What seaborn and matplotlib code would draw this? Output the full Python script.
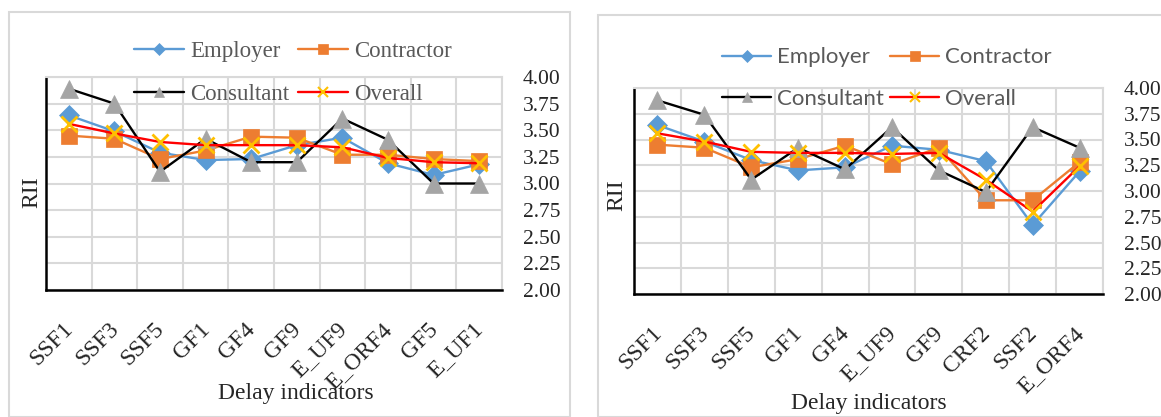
import numpy as np
import pandas as pd
import matplotlib
matplotlib.use("Agg")
import matplotlib.pyplot as plt
import matplotlib.patches as pat
import matplotlib.transforms as mtrans
from matplotlib.lines import Line2D
import seaborn as sns

# ---------------- data ----------------
cats_a = ["SSF1", "SSF3", "SSF5", "GF1", "GF4", "GF9", "E_UF9", "E_ORF4", "GF5", "E_UF1"]
employer_a = [3.64, 3.49, 3.29, 3.22, 3.23, 3.36, 3.43, 3.19, 3.08, 3.18]
contractor_a = [3.45, 3.42, 3.23, 3.31, 3.44, 3.43, 3.27, 3.27, 3.23, 3.21]
consultant_a = [3.89, 3.75, 3.11, 3.42, 3.20, 3.20, 3.61, 3.41, 3.00, 3.00]
overall_a = [3.56, 3.47, 3.39, 3.36, 3.36, 3.36, 3.34, 3.24, 3.20, 3.19]

cats_b = ["SSF1", "SSF3", "SSF5", "GF1", "GF4", "E_UF9", "GF9", "CRF2", "SSF2", "E_ORF4"]
employer_b = [3.64, 3.48, 3.30, 3.20, 3.23, 3.44, 3.40, 3.29, 2.67, 3.19]
contractor_b = [3.45, 3.42, 3.23, 3.31, 3.44, 3.26, 3.42, 2.91, 2.91, 3.28]
consultant_b = [3.88, 3.74, 3.11, 3.42, 3.21, 3.62, 3.20, 2.99, 3.62, 3.42]
overall_b = [3.56, 3.48, 3.38, 3.37, 3.37, 3.36, 3.37, 3.11, 2.80, 3.24]

yticks = [2.00, 2.25, 2.50, 2.75, 3.00, 3.25, 3.50, 3.75, 4.00]
series_names = ["Employer", "Contractor", "Consultant", "Overall"]

# style per series: line colour, marker, marker face, marker edge, size
styles = {
    "Employer": dict(color="#5B9BD5", marker="D", mfc="#5B9BD5", mec="#5B9BD5", ms=10.5),
    "Contractor": dict(color="#ED7D31", marker="s", mfc="#ED7D31", mec="#ED7D31", ms=12),
    "Consultant": dict(color="black", marker="^", mfc="#A5A5A5", mec="#A5A5A5", ms=13),
    "Overall": dict(color="#FF0000", marker="x", mfc="#FFC000", mec="#FFC000", ms=12),
}

sns.set_theme(style="white")
W, H = 1161, 417
fig = plt.figure(figsize=(W / 100, H / 100), dpi=100)
fig.patch.set_facecolor("white")

def px(x0, y0, x1, y1):
    return [x0 / W, 1 - y1 / H, (x1 - x0) / W, (y1 - y0) / H]

# outer frames
fig.patches.append(pat.Rectangle((9 / W, 0), 561 / W, 1 - 12 / H, transform=fig.transFigure,
                                 fill=False, edgecolor="#d9d9d9", lw=1.5))
fig.patches.append(pat.Rectangle((598 / W, 0), 600 / W, 1 - 15 / H, transform=fig.transFigure,
                                 fill=False, edgecolor="#d9d9d9", lw=1.5))

def draw_panel(rect, cats, vals, legend_font, legend_size, leg_anchor, xlab_dx, cspace):
    ax = fig.add_axes(rect)
    df = pd.DataFrame({"cat": cats})
    for name, v in zip(series_names, vals):
        st = styles[name]
        sns.lineplot(x=df["cat"], y=v, ax=ax, sort=False, color=st["color"], lw=1.7,
                     marker=st["marker"], markersize=st["ms"], markerfacecolor=st["mfc"],
                     markeredgecolor=st["mec"], markeredgewidth=2 if name == "Overall" else 0.5,
                     errorbar=None)
    ax.set_xlim(-0.5, len(cats) - 0.5)
    ax.set_ylim(2.0, 4.0)
    ax.set_yticks(yticks)
    ax.set_yticklabels([f"{t:.2f}" for t in yticks], family="Liberation Serif", fontsize=15.5)
    ax.yaxis.tick_right()
    ax.tick_params(axis="y", length=0, pad=15)
    ax.set_xticks(range(len(cats)))
    ax.set_xticklabels(cats, rotation=45, ha="right", va="center", rotation_mode="anchor",
                       family="Liberation Serif", fontsize=17)
    ax.tick_params(axis="x", length=0, pad=26)
    off = mtrans.ScaledTranslation(xlab_dx / 100, 0, fig.dpi_scale_trans)
    for lab in ax.get_xticklabels():
        lab.set_transform(lab.get_transform() + off)
    ax.set_xticks(np.arange(-0.5, len(cats), 1), minor=True)
    ax.grid(False)
    ax.grid(True, which="minor", axis="x", color="#d9d9d9", lw=1.5)
    ax.grid(True, which="major", axis="y", color="#d9d9d9", lw=1.5)
    ax.tick_params(axis="x", which="minor", length=0)
    ax.set_axisbelow(True)
    for s in ["top", "right"]:
        ax.spines[s].set_color("#d9d9d9")
        ax.spines[s].set_linewidth(1.5)
    for s in ["left", "bottom"]:
        ax.spines[s].set_color("black")
        ax.spines[s].set_linewidth(1.8)
    ax.set_xlabel("")
    ax.set_ylabel("")
    handles = []
    for name in series_names:
        st = styles[name]
        handles.append(Line2D([], [], color=st["color"], lw=1.7, marker=st["marker"],
                              markersize=st["ms"] * 0.6, markerfacecolor=st["mfc"],
                              markeredgecolor=st["mec"],
                              markeredgewidth=1.5 if name == "Overall" else 0.5))
    # ncol fills by column, so this gives rows Employer/Contractor and Consultant/Overall
    order = [0, 2, 1, 3]
    leg = ax.legend([handles[i] for i in order], [series_names[i] for i in order], ncol=2,
                    loc="center", bbox_to_anchor=leg_anchor, bbox_transform=fig.transFigure,
                    frameon=False, handlelength=2.2, handletextpad=0.28, columnspacing=cspace,
                    labelspacing=0.95, prop={"family": legend_font, "size": legend_size})
    for t in leg.get_texts():
        t.set_color("#595959")
    return ax

ax1 = draw_panel(px(46, 77, 502, 290), cats_a,
                 [employer_a, contractor_a, consultant_a, overall_a],
                 "Liberation Serif", 16.5, (293 / W, 1 - 73 / H), 1, 0.35)
ax2 = draw_panel(px(634, 88, 1103, 294), cats_b,
                 [employer_b, contractor_b, consultant_b, overall_b],
                 "Lato", 16, (887 / W, 1 - 78 / H), 1, 0.27)

# axis titles
fig.text(32 / W, 1 - 192 / H, "RII", rotation=90, ha="center", va="center",
         family="Liberation Serif", fontsize=17)
fig.text(296 / W, 1 - 393 / H, "Delay indicators", ha="center", va="center",
         family="Liberation Serif", fontsize=17)
fig.text(617 / W, 1 - 195 / H, "RII", rotation=90, ha="center", va="center",
         family="Liberation Serif", fontsize=17)
fig.text(869 / W, 1 - 403 / H, "Delay indicators", ha="center", va="center",
         family="Liberation Serif", fontsize=17)

fig.savefig("out.png", dpi=100)
